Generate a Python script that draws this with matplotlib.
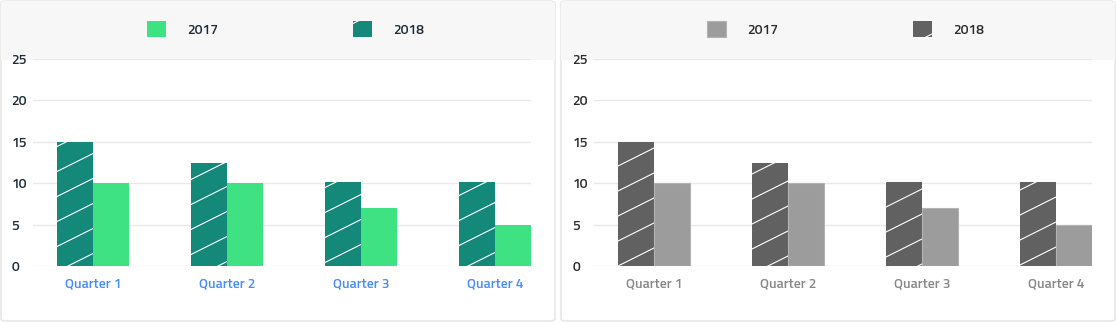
import numpy as np
import matplotlib
matplotlib.use("Agg")
import matplotlib.pyplot as plt
import matplotlib.hatch as mhatch
from matplotlib.path import Path
from matplotlib.patches import FancyBboxPatch, Rectangle

plt.rcParams['font.family'] = ['Titillium Web', 'DejaVu Sans']
plt.rcParams['font.weight'] = 'semibold'
plt.rcParams['hatch.linewidth'] = 0.8


# shallower "/" hatch (about 27 degrees) like the reference
def _ne_init(self, hatch, density):
    self.num_lines = 7 if hatch.count('/') else 0
    self.num_vertices = self.num_lines * 2


def _ne_set(self, vertices, codes):
    offs = np.linspace(-0.5, 1.0, self.num_lines)
    vertices[0::2, 0] = 0.0
    vertices[0::2, 1] = offs
    vertices[1::2, 0] = 1.0
    vertices[1::2, 1] = offs + 0.5
    codes[0::2] = Path.MOVETO
    codes[1::2] = Path.LINETO


mhatch.NorthEastHatch.__init__ = _ne_init
mhatch.NorthEastHatch.set_vertices_and_codes = _ne_set

quarters = ['Quarter 1', 'Quarter 2', 'Quarter 3', 'Quarter 4']
values_2017 = [10, 10, 7, 5]
values_2018 = [15, 12.5, 10.2, 10.2]
y_ticks = [0, 5, 10, 15, 20, 25]

# colour themes for the two cards
themes = [
    dict(c2017='#3ee282', c2018='#148879', xlab='#4a8cf7', ylab='#1c2b39', leg='#1c2b39', edge2017='none'),
    dict(c2017='#9c9c9c', c2018='#616161', xlab='#888888', ylab='#2b2b2b', leg='#2b2b2b', edge2017='#b3b3b3'),
]

W, H = 1116, 324
fig = plt.figure(figsize=(W / 100, H / 100), dpi=100)
fig.patch.set_facecolor('white')

card_x = [1, 561]
card_w = 554
axes_left = [33, 594]
axes_w = 498
legend_left = [147, 707]
fs = 10


def px(x, y):
    # pixel (from top-left) -> figure fraction
    return x / W, 1 - y / H


for i, th in enumerate(themes):
    # card with rounded border and grey header band
    x0, y0 = px(card_x[i], 321)
    card = FancyBboxPatch((x0, y0), card_w / W, 320 / H,
                          boxstyle="round,pad=0,rounding_size=0.006",
                          transform=fig.transFigure, facecolor='white',
                          edgecolor='#e3e3e3', linewidth=1, zorder=-2)
    fig.patches.append(card)
    bx, by = px(card_x[i], 60)
    band = Rectangle((bx, by), card_w / W, 60 / H, transform=fig.transFigure,
                     facecolor='#f7f7f7', edgecolor='none', zorder=-1)
    band.set_clip_path(card)
    fig.patches.append(band)

    ax = fig.add_axes([axes_left[i] / W, 58 / H, axes_w / W, 207 / H])
    ax.set_zorder(2)
    ax.set_facecolor('none')
    x = np.arange(len(quarters))
    w = 0.267
    b18 = ax.bar(x - w / 2, values_2018, w, color=th['c2018'], hatch='/',
                 edgecolor='white', linewidth=0, label='2018', zorder=2)
    b17 = ax.bar(x + w / 2, values_2017, w, color=th['c2017'],
                 edgecolor=th['edge2017'], linewidth=0.8, label='2017', zorder=2)

    ax.set_xlim(-0.449, 3 + w)
    ax.set_ylim(0, 25)
    ax.set_yticks(y_ticks)
    ax.set_xticks(x)
    ax.set_xticklabels(quarters)
    ax.grid(axis='y', color='#e9e9e9', linewidth=1, zorder=0)
    ax.set_axisbelow(True)
    for s in ax.spines.values():
        s.set_visible(False)
    ax.tick_params(axis='y', length=0, pad=15.5, labelsize=fs, labelcolor=th['ylab'])
    ax.tick_params(axis='x', length=0, pad=8, labelsize=fs, labelcolor=th['xlab'])
    for lab in ax.get_yticklabels():
        lab.set_horizontalalignment('left')

    lx, ly = px(legend_left[i], 29)
    fig.legend([b17, b18], ['2017', '2018'], loc='center left',
               bbox_to_anchor=(lx, ly), bbox_transform=fig.transFigure,
               ncol=2, frameon=False, fontsize=fs, labelcolor=th['leg'],
               handlelength=19 / (fs * 1.389), handleheight=20 / (fs * 1.389),
               handletextpad=21 / (fs * 1.389), columnspacing=135 / (fs * 1.389),
               borderpad=0, borderaxespad=0)

fig.savefig('out.png', dpi=100, facecolor='white')
